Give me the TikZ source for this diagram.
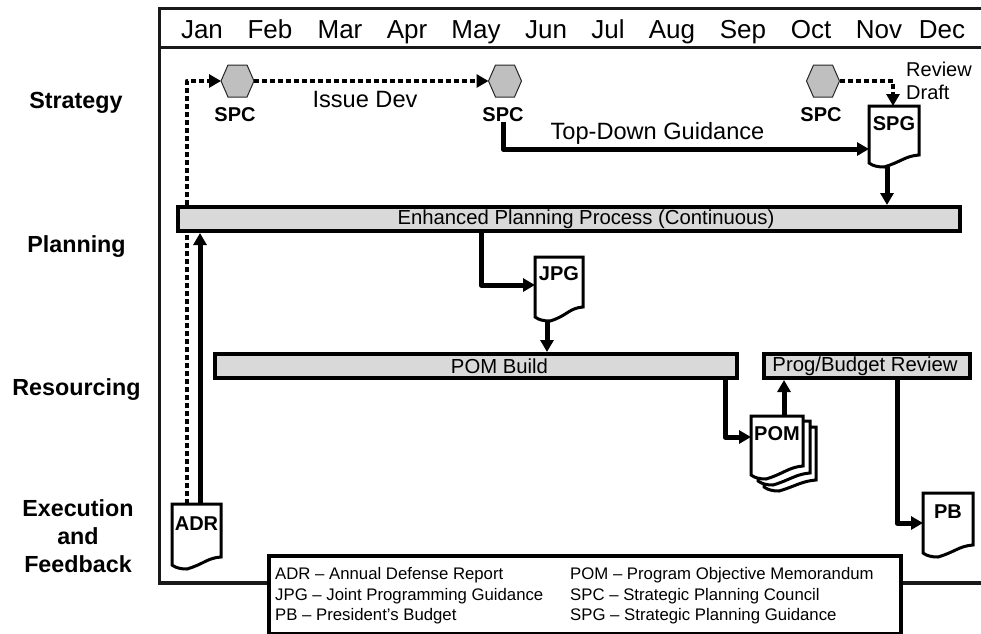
\documentclass[tikz,border=0pt]{standalone}
\usepackage{fontspec}
\setmainfont{Liberation Sans}
\usetikzlibrary{arrows.meta,calc}
\definecolor{barfill}{HTML}{D9D9D9}
\definecolor{hexfill}{HTML}{BFBFBF}
\tikzset{
  frameline/.style={line width=3.5pt,draw=black!90},
  bar/.style={draw=black,line width=4pt,fill=barfill,inner sep=0pt,font=\fontsize{20.3}{22}\selectfont},
  month/.style={font=\fontsize{26}{28}\selectfont,inner sep=0pt},
  rowlabel/.style={font=\bfseries\fontsize{23.3}{28}\selectfont,align=center,inner sep=0pt},
  spclabel/.style={font=\bfseries\fontsize{20}{22}\selectfont,inner sep=0pt},
  doclabel/.style={font=\bfseries\fontsize{20}{22}\selectfont,inner sep=0pt},
  plain/.style={font=\fontsize{23.6}{26}\selectfont,inner sep=0pt},
  small/.style={font=\fontsize{20}{23}\selectfont,inner sep=0pt},
  legendtext/.style={font=\fontsize{16.75}{20.5}\selectfont,anchor=west,inner sep=0pt},
  conn/.style={line width=5pt,line join=round,-{Triangle[length=12pt,width=13pt]}},
  dotconn/.style={line width=4.5pt,dash pattern=on 5pt off 3pt,-{Triangle[length=12pt,width=13pt]}},
  dotplain/.style={line width=4.5pt,dash pattern=on 5pt off 3pt},
  docline/.style={line width=3pt,line join=miter,draw=black,fill=white},
}
% \docpath{left}{top}{right}{right-bottom y}{left-bottom y}
\newcommand{\docpath}[5]{%
  \path[docline] (#1,#2) -- (#3,#2) -- (#3,#4)
    .. controls ($(#3,#4)+(-14,1)$) and ($(#1,#5)+(32,-1)$) .. ($(#1,#5)+(15,4)$)
    .. controls ($(#1,#5)+(9,4)$) and ($(#1,#5)+(4,3)$) .. (#1,#5) -- cycle;}
% \docshape{name}{left}{top}{right}{right-bottom y}{left-bottom y}{label}{label y}
\newcommand{\docshape}[8]{%
  \docpath{#2}{#3}{#4}{#5}{#6}
  \node[doclabel,minimum width=#4pt-#2pt,minimum height=#6pt+4pt-#3pt,anchor=north west,text height=0pt,text depth=0pt] (#1) at (#2,#3) {};
  \node[doclabel] (#1label) at ({(#2+#4)/2},#8) {#7};}
% \hexshape{name}{cx}{cy}
\newcommand{\hexshape}[3]{%
  \node[minimum width=33pt,minimum height=32pt,inner sep=0pt,outer sep=0pt] (#1) at (#2,#3) {};
  \path[draw=black!85,line width=1pt,fill=hexfill]
    (#1.west) -- ($(#1.north west)+(7,0)$) -- ($(#1.north east)+(-7,0)$) -- (#1.east)
    -- ($(#1.south east)+(-7,0)$) -- ($(#1.south west)+(7,0)$) -- cycle;}
\begin{document}
\begin{tikzpicture}[x=1pt,y=-1pt]
\useasboundingbox (0,0) rectangle (981,633);
% frame
\coordinate (ftl) at (159.5,8.5);
\coordinate (ftr) at (981,8.5);
\coordinate (fhl) at (159.5,47.5);
\coordinate (fhr) at (981,47.5);
\coordinate (fbl) at (159.5,583);
\coordinate (fbr) at (981,583);
\draw[frameline] (ftr) -- (ftl) -- (fbl) -- (fbr);
\draw[frameline] (fhl) -- (fhr);
% months
\foreach \m/\x in {Jan/202,Feb/270,Mar/340,Apr/407,May/476,Jun/546,Jul/608,Aug/672,Sep/743,Oct/811,Nov/879,Dec/942}
  \node[month,anchor=base] (m\m) at (\x,38) {\m};
% row labels
\node[rowlabel] (rstrategy) at (76,102.5) {Strategy};
\node[rowlabel] (rplanning) at (76.5,246.5) {Planning};
\node[rowlabel] (rresourcing) at (76.5,389.5) {Resourcing};
\node[rowlabel] (rexec) at (78,536.5) {Execution\\and\\Feedback};
% bars
\node[bar,minimum width=782pt,minimum height=24pt] (epp) at (569,219) {\hspace*{34pt}\raisebox{-1.5pt}{Enhanced Planning Process (Continuous)}};
\node[bar,minimum width=522pt,minimum height=24pt] (pombar) at (476,366) {\hspace*{47pt}POM Build};
\node[bar,minimum width=206pt,minimum height=24pt] (progbar) at (867,366) {Prog/Budget Review\hspace*{4pt}};
% turning points
\coordinate (tadr) at (187,81);
\coordinate (tsolid) at (200,0);
\coordinate (ttop) at (503,149);
\coordinate (tjpg) at (481,285);
\coordinate (tjpgdown) at (547,0);
\coordinate (treview) at (893,81);
\coordinate (tspgdown) at (887,0);
\coordinate (tpom) at (725,437);
\coordinate (tpomup) at (784,0);
\coordinate (tpb) at (897,523);
% hexagons
\hexshape{hexa}{237.5}{81}
\hexshape{hexb}{505}{81}
\hexshape{hexc}{823}{81}
\node[spclabel] (spca) at (235,115) {SPC};
\node[spclabel] (spcb) at (503,115) {SPC};
\node[spclabel] (spcc) at (821,115) {SPC};
% documents
\docshape{spg}{869}{106}{919}{155}{163}{SPG}{124}
\docshape{jpg}{535}{257}{583}{307}{317}{JPG}{274}
\docshape{adr}{172}{504}{221}{557}{565}{ADR}{524}
\docshape{pb}{923}{493}{973}{545}{553}{PB}{512}
\docpath{764}{427}{816}{480}{487}
\docpath{758}{421}{810}{473}{481}
\docshape{pom}{751}{416}{803}{466}{475}{POM}{434}
% connectors
\draw[dotplain] (adr.north -| tadr) -- (epp.south -| tadr);
\draw[dotconn,line join=round] (epp.north -| tadr) |- (hexa.west);
\draw[dotconn] (hexa.east) -- (hexb.west);
\draw[dotconn,line join=round] (hexc.east) -| (spg.north -| treview);
\draw[conn] (adr.north -| tsolid) -- (epp.south -| tsolid);
\draw[conn] (spcb.south -| ttop) |- (spg.west |- ttop);
\draw[conn] (spg.south -| tspgdown) -- (epp.north -| tspgdown);
\draw[conn] (epp.south -| tjpg) |- (jpg.west |- tjpg);
\draw[conn] (jpg.south -| tjpgdown) -- (pombar.north -| tjpgdown);
\draw[conn] (pombar.south -| tpom) |- (pom.west |- tpom);
\draw[conn] (pom.north -| tpomup) -- (progbar.south -| tpomup);
\draw[conn] (progbar.south -| tpb) |- (pb.west |- tpb);
% texts
\node[plain] (issue) at (365,99) {Issue Dev};
\node[plain] (topdown) at (657.5,133.5) {Top-Down Guidance};
\node[small,anchor=west] (review) at (906,69) {Review};
\node[small,anchor=west] (draft) at (906,92) {Draft};
% legend
\node[draw=black,line width=3.5pt,fill=white,minimum width=632pt,minimum height=78pt,anchor=north west,inner sep=0pt] (legend) at (267,554) {};
\node[legendtext] (l1) at (275,575) {ADR – Annual Defense Report};
\node[legendtext] (l2) at (275,596) {JPG – Joint Programming Guidance};
\node[legendtext] (l3) at (275,616) {PB – President’s Budget};
\node[legendtext] (l4) at (570,575) {POM – Program Objective Memorandum};
\node[legendtext] (l5) at (570,596) {SPC – Strategic Planning Council};
\node[legendtext] (l6) at (570,616) {SPG – Strategic Planning Guidance};
\end{tikzpicture}
\end{document}
